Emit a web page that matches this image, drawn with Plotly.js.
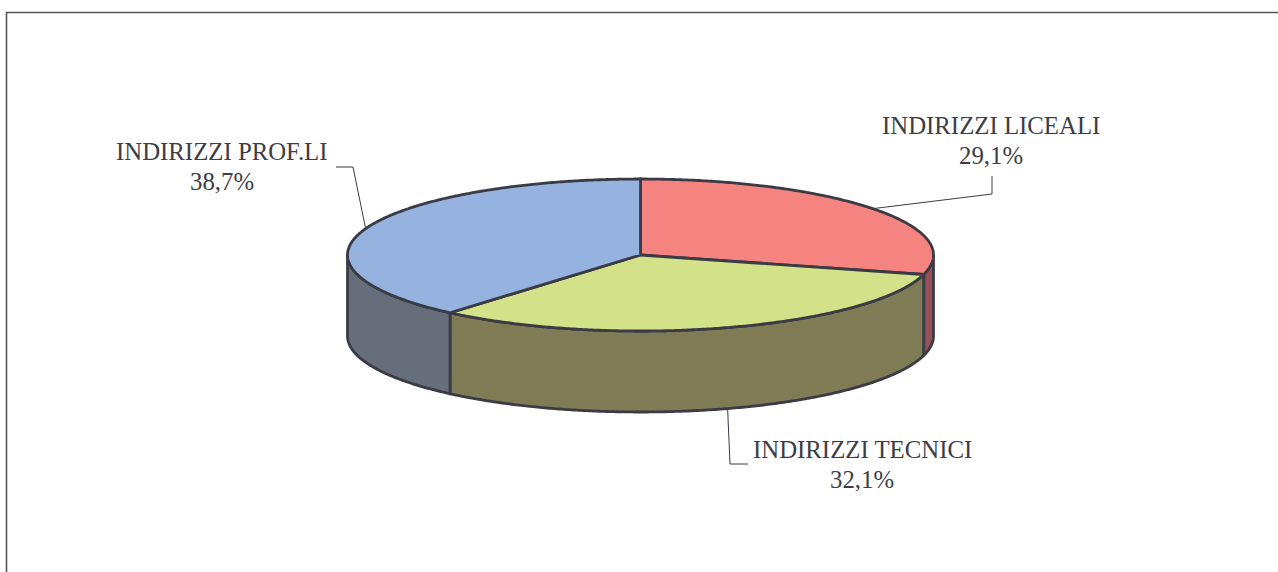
<!DOCTYPE html>
<html>
<head>
<meta charset="utf-8">
<script src="https://cdn.plot.ly/plotly-3.0.1.min.js"></script>
<style>html,body{margin:0;padding:0;background:#fff;overflow:hidden}</style>
</head>
<body>
<div id="chart" style="width:1278px;height:572px"></div>
<script>
const categories = ["INDIRIZZI LICEALI", "INDIRIZZI TECNICI", "INDIRIZZI PROF.LI"];
const values = [29.1, 32.1, 38.7];
const percentLabels = ["29,1%", "32,1%", "38,7%"];
const topColors = ["#F58480", "#D3E288", "#95B3DE"];
const sideColors = ["#95505A", "#7F7B54", "#666D7B"];
const labelCentersX = [991, 862, 222];
const labelFirstLineY = [125, 449, 151];
const leaderElbows = [[[992, 194], [992, 176]], [[730, 464], [748, 464]], [[353, 167], [336, 167]]];

const cx = 640.5, cy = 255, rx = 293, ry = 76, depth = 81;
const edge = "#3A3B45", textColor = "#3C3D45", font = "Liberation Serif";
const total = values.reduce((a, b) => a + b, 0);
const px = t => cx + rx * Math.sin(t * Math.PI / 180);
const py = (t, d) => cy - ry * Math.cos(t * Math.PI / 180) + d;
function arc(a, b, d) {
  const n = Math.max(2, Math.ceil(Math.abs(b - a) / 0.5)), xs = [], ys = [];
  for (let i = 0; i <= n; i++) { const t = a + (b - a) * i / n; xs.push(px(t)); ys.push(py(t, d)); }
  return [xs, ys];
}
const shape = (x, y, fill) => ({
  type: "scatter", mode: "lines", x, y, fill: "toself", fillcolor: fill,
  line: {color: edge, width: 2.8, shape: "linear", simplify: false}, hoverinfo: "skip", showlegend: false
});

const traces = [], annotations = [], shapes = [];
let start = 0;
const spans = values.map(v => { const s = [start, start + v / total * 360]; start = s[1]; return s; });

// side walls, only the visible front half (90 to 270 degrees)
spans.forEach((s, i) => {
  const a = Math.max(s[0], 90), b = Math.min(s[1], 270);
  if (b <= a) return;
  const [x1, y1] = arc(a, b, 0), [x2, y2] = arc(b, a, depth);
  traces.push(shape(x1.concat(x2, [x1[0]]), y1.concat(y2, [y1[0]]), sideColors[i]));
});
// top faces
spans.forEach((s, i) => {
  const [x, y] = arc(s[0], s[1], 0);
  traces.push(shape([cx].concat(x, [cx]), [cy].concat(y, [cy]), topColors[i]));
});
// leaders and labels
spans.forEach((s, i) => {
  const mid = (s[0] + s[1]) / 2;
  const front = mid > 90 && mid < 270;
  const xs = [px(mid)].concat(leaderElbows[i].map(p => p[0]));
  const ys = [py(mid, front ? depth : 0)].concat(leaderElbows[i].map(p => p[1]));
  traces.push({type: "scatter", mode: "lines", x: xs, y: ys,
    line: {color: edge, width: 1}, hoverinfo: "skip", showlegend: false});
  [categories[i], percentLabels[i]].forEach((t, k) => annotations.push({
    x: labelCentersX[i], y: labelFirstLineY[i] + k * 30, text: t, showarrow: false,
    xanchor: "center", yanchor: "middle",
    font: {family: font, size: 24.8, color: textColor}
  }));
});
// chart area border: left and top edges only are in the frame
traces.push({type: "scatter", mode: "lines", x: [6.5, 6.5, 1278], y: [572, 12.5, 12.5],
  line: {color: "#555555", width: 1.6}, hoverinfo: "skip", showlegend: false});

Plotly.newPlot("chart", traces, {
  width: 1278, height: 572, margin: {l: 0, r: 0, t: 0, b: 0},
  paper_bgcolor: "#fff", plot_bgcolor: "#fff", showlegend: false,
  xaxis: {range: [0, 1278], visible: false, fixedrange: true},
  yaxis: {range: [572, 0], visible: false, fixedrange: true},
  annotations, shapes
}, {displayModeBar: false, staticPlot: true});
</script>
</body>
</html>
